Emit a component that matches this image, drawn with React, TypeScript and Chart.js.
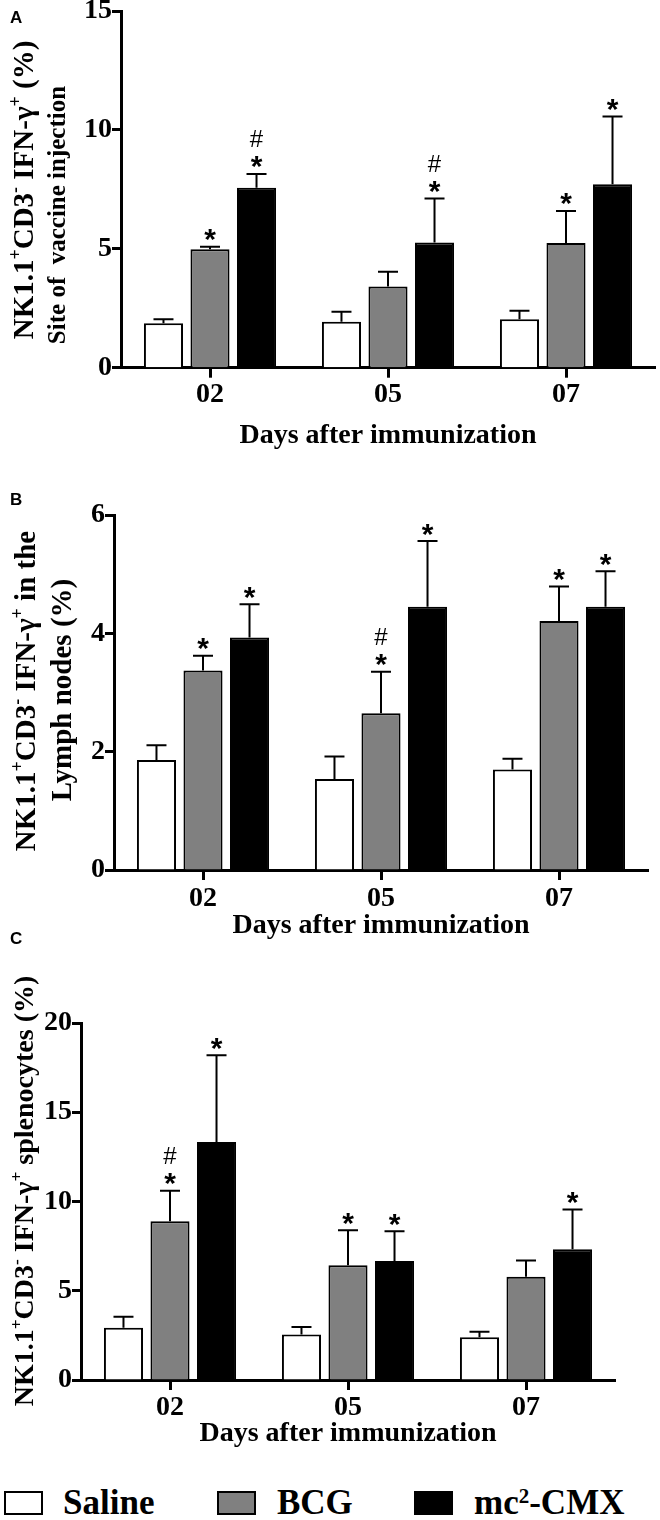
import React, { useEffect, useRef } from "react";
import { Chart, registerables } from "chart.js";
Chart.register(...registerables);

// ---------- data ----------
const days = ["02", "05", "07"];
const seriesNames = ["Saline", "BCG", "mc2-CMX"];

const aSaline = [1.87, 1.93, 2.04];
const aSalineSd = [0.17, 0.42, 0.36];
const aBcg = [4.98, 3.41, 5.24];
const aBcgSd = [0.11, 0.63, 1.35];
const aCmx = [7.57, 5.27, 7.71];
const aCmxSd = [0.58, 1.85, 2.85];
const aBcgMarks = ["*", "", "*"];
const aCmxMarks = ["#*", "#*", "*"];
const aTicks = [0, 5, 10, 15];

const bSaline = [1.86, 1.54, 1.7];
const bSalineSd = [0.25, 0.38, 0.18];
const bBcg = [3.37, 2.65, 4.21];
const bBcgSd = [0.25, 0.7, 0.58];
const bCmx = [3.93, 4.45, 4.45];
const bCmxSd = [0.56, 1.11, 0.6];
const bBcgMarks = ["*", "#*", "*"];
const bCmxMarks = ["*", "*", "*"];
const bTicks = [0, 2, 4, 6];

const cSaline = [2.93, 2.55, 2.4];
const cSalineSd = [0.62, 0.42, 0.3];
const cBcg = [8.9, 6.43, 5.78];
const cBcgSd = [1.7, 1.96, 0.92];
const cCmx = [13.34, 6.66, 7.33];
const cCmxSd = [4.86, 1.68, 2.22];
const cBcgMarks = ["#*", "*", ""];
const cCmxMarks = ["*", "*", "*"];
const cTicks = [0, 5, 10, 15, 20];

const xTitle = "Days after immunization";

type Seg = { t: string; sup?: boolean };
const NK: Seg[] = [
  { t: "NK1.1" }, { t: "+", sup: true }, { t: "CD3" }, { t: "-", sup: true },
  { t: " IFN-γ" }, { t: "+", sup: true },
];

const SERIF = '"Liberation Serif", "Times New Roman", serif';
const SANS = '"Liberation Sans", Arial, sans-serif';

function richWidth(ctx: CanvasRenderingContext2D, segs: Seg[], size: number) {
  let w = 0;
  for (const s of segs) {
    ctx.font = `bold ${s.sup ? size * 0.62 : size}px ${SERIF}`;
    w += ctx.measureText(s.t).width;
  }
  return w;
}
function drawRich(ctx: CanvasRenderingContext2D, segs: Seg[], size: number, x0: number) {
  let x = x0;
  for (const s of segs) {
    ctx.font = `bold ${s.sup ? size * 0.62 : size}px ${SERIF}`;
    ctx.fillText(s.t, x, s.sup ? -size * 0.4 : 0);
    x += ctx.measureText(s.t).width;
  }
}

type YLine = { segs: Seg[]; bx: number; cy: number; size: number };
type PanelCfg = {
  top: number; height: number;
  left: number; areaTop: number; areaBottom: number; right: number;
  max: number; ticks: number[];
  values: number[][]; sds: number[][]; marks: string[][];
  yLines: YLine[]; letter: string; letterY: number; xTitleY: number; tickPad: number;
};

const decorPlugin = {
  id: "decor",
  afterDatasetsDraw(chart: any, _a: any, opts: any) {
    const cfg: PanelCfg = opts.cfg;
    if (!cfg) return;
    const ctx: CanvasRenderingContext2D = chart.ctx;
    const ys = chart.scales.y;
    ctx.save();
    ctx.strokeStyle = "#000";
    ctx.fillStyle = "#000";
    ctx.lineWidth = 2;
    chart.data.datasets.forEach((ds: any, i: number) => {
      const meta = chart.getDatasetMeta(i);
      meta.data.forEach((el: any, j: number) => {
        const v = ds.data[j];
        const top = ys.getPixelForValue(v + cfg.sds[i][j]);
        ctx.beginPath();
        ctx.moveTo(el.x, el.y);
        ctx.lineTo(el.x, top);
        ctx.moveTo(el.x - 10, top);
        ctx.lineTo(el.x + 10, top);
        ctx.stroke();
        const m = cfg.marks[i][j];
        ctx.textAlign = "center";
        ctx.textBaseline = "alphabetic";
        if (m.includes("*")) {
          ctx.font = `bold 30px ${SANS}`;
          ctx.fillText("*", el.x, top - 14 + 16.5);
        }
        if (m.includes("#")) {
          ctx.font = `24px ${SANS}`;
          ctx.fillText("#", el.x, top - 35 + 8.5);
        }
      });
    });
    ctx.restore();
  },
  afterDraw(chart: any, _a: any, opts: any) {
    const cfg: PanelCfg = opts.cfg;
    if (!cfg) return;
    const ctx: CanvasRenderingContext2D = chart.ctx;
    const ca = chart.chartArea;
    ctx.save();
    ctx.fillStyle = "#000";
    ctx.font = `bold 28px ${SERIF}`;
    ctx.textAlign = "center";
    ctx.textBaseline = "alphabetic";
    ctx.fillText(xTitle, (ca.left + ca.right) / 2, cfg.xTitleY - cfg.top);
    ctx.font = `bold 17px ${SANS}`;
    ctx.textAlign = "left";
    ctx.fillText(cfg.letter, 10, cfg.letterY - cfg.top);
    for (const ln of cfg.yLines) {
      const w = richWidth(ctx, ln.segs, ln.size);
      ctx.save();
      ctx.translate(ln.bx, ln.cy - cfg.top);
      ctx.rotate(-Math.PI / 2);
      drawRich(ctx, ln.segs, ln.size, -w / 2);
      ctx.restore();
    }
    ctx.restore();
  },
};

function Panel({ cfg }: { cfg: PanelCfg }) {
  const ref = useRef<HTMLCanvasElement>(null);
  useEffect(() => {
    const canvas = ref.current!;
    const localBottom = cfg.areaBottom - cfg.top;
    const fills = ["#ffffff", "#808080", "#000000"];
    const chart = new Chart(canvas, {
      type: "bar",
      data: {
        labels: days,
        datasets: seriesNames.map((n, i) => ({
          label: n,
          data: cfg.values[i],
          backgroundColor: fills[i],
          borderColor: "#000",
          borderWidth: 2,
          barPercentage: 0.84,
          categoryPercentage: 0.784,
        })),
      },
      options: {
        responsive: false,
        devicePixelRatio: 1,
        animation: false,
        layout: { padding: { left: 0, top: cfg.areaTop - cfg.top, right: 660 - cfg.right, bottom: 0 } },
        plugins: {
          legend: { display: false },
          tooltip: { enabled: false },
          decor: { cfg },
        } as any,
        scales: {
          x: {
            grid: { drawOnChartArea: false, drawTicks: true, tickLength: 10, tickWidth: 3, tickColor: "#000", offset: false },
            border: { display: true, color: "#000", width: 3 },
            ticks: { color: "#000", padding: cfg.tickPad, font: { family: SERIF, weight: "bold", size: 28 } },
            afterFit: (s: any) => {
              s.height = cfg.height - localBottom;
              s.paddingLeft = 0; s.paddingRight = 0; s.paddingTop = 0; s.paddingBottom = 0;
            },
          },
          y: {
            min: 0,
            max: cfg.max,
            afterBuildTicks: (s: any) => { s.ticks = cfg.ticks.map((v) => ({ value: v })); },
            grid: { drawOnChartArea: false, drawTicks: true, tickLength: 9, tickWidth: 3, tickColor: "#000" },
            border: { display: true, color: "#000", width: 3 },
            ticks: { color: "#000", padding: 0, font: { family: SERIF, weight: "bold", size: 28 } },
            afterFit: (s: any) => {
              s.width = cfg.left;
              s.paddingLeft = 0; s.paddingRight = 0; s.paddingTop = 0; s.paddingBottom = 0;
            },
          },
        },
      },
      plugins: [decorPlugin],
    } as any);
    return () => chart.destroy();
  }, []);
  return (
    <canvas
      ref={ref}
      width={660}
      height={cfg.height}
      style={{ position: "absolute", left: 0, top: cfg.top, width: 660, height: cfg.height }}
    />
  );
}

const panelA: PanelCfg = {
  top: 0, height: 460, left: 121, areaTop: 11, areaBottom: 367.7, right: 655,
  max: 15, ticks: aTicks,
  values: [aSaline, aBcg, aCmx], sds: [aSalineSd, aBcgSd, aCmxSd], marks: [["", "", ""], aBcgMarks, aCmxMarks],
  yLines: [
    { segs: [...NK, { t: " (%)" }], bx: 33, cy: 190, size: 29 },
    { segs: [{ t: "Site of  vaccine injection" }], bx: 65, cy: 215, size: 25 },
  ],
  letter: "A", letterY: 23, xTitleY: 443, tickPad: 0,
};
const panelB: PanelCfg = {
  top: 460, height: 490, left: 114, areaTop: 515, areaBottom: 870, right: 648,
  max: 6, ticks: bTicks,
  values: [bSaline, bBcg, bCmx], sds: [bSalineSd, bBcgSd, bCmxSd], marks: [["", "", ""], bBcgMarks, bCmxMarks],
  yLines: [
    { segs: [...NK, { t: " in the" }], bx: 35, cy: 691, size: 29 },
    { segs: [{ t: "Lymph nodes (%)" }], bx: 71, cy: 690, size: 29 },
  ],
  letter: "B", letterY: 505, xTitleY: 933, tickPad: 2,
};
const panelC: PanelCfg = {
  top: 915, height: 550, left: 81, areaTop: 1023, areaBottom: 1380, right: 615,
  max: 20, ticks: cTicks,
  values: [cSaline, cBcg, cCmx], sds: [cSalineSd, cBcgSd, cCmxSd], marks: [["", "", ""], cBcgMarks, cCmxMarks],
  yLines: [{ segs: [...NK, { t: " splenocytes (%)" }], bx: 33, cy: 1191, size: 28 }],
  letter: "C", letterY: 944, xTitleY: 1441, tickPad: 1,
};

const legendFills = ["#ffffff", "#808080", "#000000"];
const legendSquareX = [4, 217, 414];
const legendTextX = [63, 277, 474];

export default function App() {
  return (
    <div style={{ position: "absolute", left: 0, top: 0, width: 660, height: 1520, background: "#fff" }}>
      <Panel cfg={panelA} />
      <Panel cfg={panelB} />
      <Panel cfg={panelC} />
      {seriesNames.map((n, i) => (
        <React.Fragment key={n}>
          <div
            style={{
              position: "absolute", left: legendSquareX[i], top: 1491, width: 39, height: 24,
              boxSizing: "border-box", border: "2px solid #000", background: legendFills[i],
            }}
          />
          <div
            style={{
              position: "absolute", left: legendTextX[i], top: 1484, fontFamily: SERIF, fontWeight: "bold",
              fontSize: 35, lineHeight: "38px", color: "#000", whiteSpace: "nowrap",
            }}
          >
            {i === 2 ? (<>mc<sup style={{ fontSize: 21, verticalAlign: "top", lineHeight: "24px" }}>2</sup>-CMX</>) : n}
          </div>
        </React.Fragment>
      ))}
    </div>
  );
}
